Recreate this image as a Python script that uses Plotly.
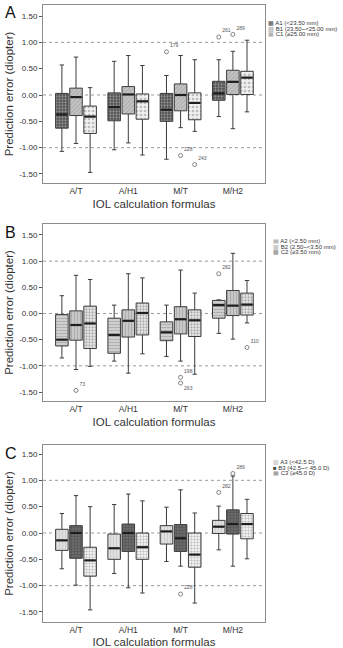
import plotly.graph_objects as go

# ---------------- data ----------------
CATEGORIES = ["A/T", "A/H1", "M/T", "M/H2"]
Y_TICKS = [-1.5, -1.0, -0.5, 0.0, 0.5, 1.0, 1.5]
REF_LINES = [-1.0, 0.0, 1.0]

# Panel A : axial length groups
A1 = dict(upper=[0.57, 0.64, 0.37, 0.67], q3=[0.03, 0.04, 0.03, 0.26], median=[-0.37, -0.23, -0.28, 0.03],
          q1=[-0.63, -0.49, -0.50, -0.10], lower=[-1.07, -1.04, -1.22, -0.41])
B1 = dict(upper=[0.72, 0.75, 0.75, 0.83], q3=[0.13, 0.16, 0.21, 0.47], median=[-0.04, 0.01, 0.00, 0.25],
          q1=[-0.39, -0.36, -0.30, 0.01], lower=[-0.92, -0.91, -0.62, -0.64])
C1 = dict(upper=[0.14, 0.56, 0.67, 1.04], q3=[-0.21, 0.02, 0.04, 0.45], median=[-0.41, -0.12, -0.15, 0.33],
          q1=[-0.73, -0.46, -0.47, 0.01], lower=[-1.47, -1.14, -0.69, -0.32])
OUTLIERS_A = [("M/T", 0, 0.82, "179", "top right"), ("M/T", 1, -1.15, "228", "top right"),
              ("M/T", 2, -1.32, "243", "top right"), ("M/H2", 0, 1.10, "261", "top right"),
              ("M/H2", 1, 1.15, "289", "top right")]
LABELS_A = ["A1 (&lt;23.50 mm)", "B1 (23.50~&lt;25.00 mm)", "C1 (≥25.00 mm)"]

# Panel B : anterior chamber depth groups
A2 = dict(upper=[0.34, 0.16, 0.16, 0.26], q3=[-0.02, -0.09, -0.16, 0.25], median=[-0.50, -0.41, -0.36, 0.16],
          q1=[-0.62, -0.76, -0.52, -0.09], lower=[-0.85, -0.91, -0.82, -0.38])
B2 = dict(upper=[0.73, 0.76, 0.83, 1.15], q3=[0.05, 0.07, 0.13, 0.44], median=[-0.22, -0.14, -0.11, 0.15],
          q1=[-0.51, -0.45, -0.39, -0.04], lower=[-1.07, -1.14, -0.91, -0.49])
C2 = dict(upper=[0.65, 0.68, 0.39, 0.63], q3=[0.14, 0.20, 0.07, 0.39], median=[-0.19, 0.01, -0.13, 0.17],
          q1=[-0.67, -0.41, -0.44, -0.03], lower=[-1.01, -0.77, -1.16, -0.18])
OUTLIERS_B = [("A/T", 1, -1.47, "73", "top right"), ("M/T", 1, -1.22, "198", "top right"),
              ("M/T", 1, -1.33, "263", "bottom right"), ("M/H2", 0, 0.76, "282", "top right"),
              ("M/H2", 2, -0.65, "310", "top right")]
LABELS_B = ["A2 (&lt;2.50 mm)", "B2 (2.50~&lt;3.50 mm)", "C2 (≥3.50 mm)"]

# Panel C : keratometry groups
A3 = dict(upper=[0.37, 0.54, 0.49, 0.51], q3=[0.07, -0.02, 0.14, 0.24], median=[-0.14, -0.29, 0.03, 0.12],
          q1=[-0.33, -0.50, -0.21, -0.01], lower=[-0.68, -0.77, -0.54, -0.32])
B3 = dict(upper=[0.71, 0.74, 0.82, 1.08], q3=[0.14, 0.17, 0.16, 0.44], median=[0.00, 0.00, -0.10, 0.17],
          q1=[-0.48, -0.35, -0.35, -0.02], lower=[-0.99, -1.04, -0.63, -0.63])
C3 = dict(upper=[0.50, 0.61, 0.38, 0.64], q3=[-0.27, 0.00, 0.00, 0.37], median=[-0.52, -0.27, -0.41, 0.17],
          q1=[-0.82, -0.50, -0.65, -0.11], lower=[-1.46, -1.14, -1.33, -0.49])
OUTLIERS_C = [("M/T", 1, -1.16, "228", "top right"), ("M/H2", 0, 0.77, "282", "top right"),
              ("M/H2", 1, 1.13, "289", "top right")]
LABELS_C = ["A3 (&lt;42.5 D)", "B3 (42.5~&lt; 45.0 D)", "C3 (≥45.0 D)"]

# ---------------- styles ----------------
W, H = 343, 648
FONT = "Arial, Liberation Sans, sans-serif"
PLOT_LEFT, PLOT_RIGHT = 43, 265
OFFSETS = [-0.27, 0.0, 0.27]
BOX_W = 0.24

PATTERNS = [
    [dict(bg="#4d4d4d", fg="#d8d8d8", shape=".", size=3, sol=0.45),
     dict(bg="#c4c4c4", fg="#8a8a8a", shape="/", size=3, sol=0.3),
     dict(bg="#f0f0f0", fg="#8a8a8a", shape=".", size=4, sol=0.35)],
    [dict(bg="#cfcfcf", fg="#8c8c8c", shape="-", size=3, sol=0.3),
     dict(bg="#c8c8c8", fg="#8c8c8c", shape="|", size=3, sol=0.3),
     dict(bg="#ececec", fg="#6a6a6a", shape=".", size=3, sol=0.45)],
    [dict(bg="#e0e0e0", fg="#b5b5b5", shape="|", size=3, sol=0.3),
     dict(bg="#6a6a6a", fg="#333333", shape="+", size=3, sol=0.3),
     dict(bg="#f0f0f0", fg="#7a7a7a", shape="+", size=3, sol=0.3)],
]
SWATCH = [[("▩", "#4a4a4a"), ("▨", "#8a8a8a"), ("▦", "#a0a0a0")],
          [("▤", "#8a8a8a"), ("▥", "#8a8a8a"), ("▩", "#888888")],
          [("▥", "#a8a8a8"), ("■", "#4a4a4a"), ("▦", "#8a8a8a")]]

PANELS = [
    dict(letter="A", groups=[A1, B1, C1], outliers=OUTLIERS_A, labels=LABELS_A,
         top=5, bottom=183, yr=[-1.671, 1.709], legend_x=266, legend_y=[22.7, 28.7, 34.5]),
    dict(letter="B", groups=[A2, B2, C2], outliers=OUTLIERS_B, labels=LABELS_B,
         top=224, bottom=401, yr=[-1.672, 1.71], legend_x=271, legend_y=[240.7, 246.5, 252.3]),
    dict(letter="C", groups=[A3, B3, C3], outliers=OUTLIERS_C, labels=LABELS_C,
         top=445, bottom=622, yr=[-1.69, 1.671], legend_x=271, legend_y=[461.7, 467.5, 473.3]),
]

fig = go.Figure()
layout_axes = {}
annotations = []
shapes = []

cat_idx = {c: i for i, c in enumerate(CATEGORIES)}

for p, panel in enumerate(PANELS):
    sfx = "" if p == 0 else str(p + 1)
    xa, ya = "x" + sfx, "y" + sfx
    # bars (patterned IQR fills)
    for g, grp in enumerate(panel["groups"]):
        pos = [i + OFFSETS[g] for i in range(len(CATEGORIES))]
        st = PATTERNS[p][g]
        fig.add_trace(go.Bar(
            x=pos, y=[a - b for a, b in zip(grp["q3"], grp["q1"])], base=grp["q1"],
            width=BOX_W, xaxis=xa, yaxis=ya, showlegend=False, hoverinfo="skip",
            marker=dict(color=st["bg"], line=dict(width=0),
                        pattern=dict(shape=st["shape"], fgcolor=st["fg"], bgcolor=st["bg"],
                                     size=st["size"], solidity=st["sol"]))))
    # box outlines + whiskers
    for g, grp in enumerate(panel["groups"]):
        pos = [i + OFFSETS[g] for i in range(len(CATEGORIES))]
        fig.add_trace(go.Box(
            x=pos, q1=grp["q1"], median=grp["median"], q3=grp["q3"],
            lowerfence=grp["lower"], upperfence=grp["upper"], width=BOX_W,
            whiskerwidth=0.35, fillcolor="rgba(0,0,0,0)", line=dict(color="#3c3c3c", width=1),
            boxpoints=False, xaxis=xa, yaxis=ya, showlegend=False, hoverinfo="skip"))
    # thick medians
    for g, grp in enumerate(panel["groups"]):
        pos = [i + OFFSETS[g] for i in range(len(CATEGORIES))]
        fig.add_trace(go.Scatter(
            x=pos, y=grp["median"], mode="markers", xaxis=xa, yaxis=ya, showlegend=False,
            hoverinfo="skip",
            marker=dict(symbol="line-ew", size=8, line=dict(width=2.2, color="#1e1e1e"))))
    # outliers
    ox = [cat_idx[o[0]] + OFFSETS[o[1]] for o in panel["outliers"]]
    fig.add_trace(go.Scatter(
        x=ox, y=[o[2] for o in panel["outliers"]], text=[o[3] for o in panel["outliers"]],
        textposition=[o[4] for o in panel["outliers"]], mode="markers+text",
        xaxis=xa, yaxis=ya, showlegend=False, hoverinfo="skip",
        textfont=dict(size=5, color="#555555", family=FONT),
        marker=dict(symbol="circle-open", size=4, color="#666666", line=dict(width=0.8))))

    y0 = 1 - panel["bottom"] / H
    y1 = 1 - panel["top"] / H
    layout_axes["xaxis" + sfx] = dict(
        domain=[PLOT_LEFT / W, PLOT_RIGHT / W], anchor=ya, range=[-0.631, 3.614],
        tickmode="array", tickvals=list(range(len(CATEGORIES))), ticktext=CATEGORIES,
        showline=True, mirror=True, linecolor="#8c8c8c", linewidth=1, ticks="",
        showgrid=False, zeroline=False, automargin=False,
        tickfont=dict(size=8.5, color="#333333", family=FONT),
        title=dict(text="IOL calculation formulas", font=dict(size=11.5, color="#333333", family=FONT),
                   standoff=4))
    layout_axes["yaxis" + sfx] = dict(
        domain=[y0, y1], anchor=xa, range=panel["yr"],
        tickmode="array", tickvals=Y_TICKS, ticktext=["%.2f" % v for v in Y_TICKS],
        ticks="outside", ticklen=3, tickcolor="#555555", tickwidth=1,
        showline=True, mirror=True, linecolor="#8c8c8c", linewidth=1,
        showgrid=False, zeroline=False, automargin=False,
        tickfont=dict(size=8, color="#333333", family=FONT),
        title=dict(text="Prediction error (diopter)", font=dict(size=11.5, color="#333333", family=FONT),
                   standoff=3))
    for v in REF_LINES:
        shapes.append(dict(type="line", xref=xa + " domain", yref=ya, x0=0, x1=1, y0=v, y1=v,
                           line=dict(color="#9a9a9a", width=1, dash="dot"), layer="below"))
    annotations.append(dict(text=panel["letter"], xref="paper", yref="paper",
                            x=3 / W, y=1 - (panel["top"] + 8) / H, xanchor="left", yanchor="middle",
                            showarrow=False, font=dict(size=16, color="#111111", family=FONT)))
    for g, lab in enumerate(panel["labels"]):
        ch, col = SWATCH[p][g]
        annotations.append(dict(
            text="<span style='color:%s'>%s</span> %s" % (col, ch, lab),
            xref="paper", yref="paper", x=panel["legend_x"] / W, y=1 - panel["legend_y"][g] / H,
            xanchor="left", yanchor="middle", showarrow=False,
            font=dict(size=6, color="#333333", family=FONT)))

fig.update_layout(
    width=W, height=H, margin=dict(l=0, r=0, t=0, b=0),
    paper_bgcolor="white", plot_bgcolor="white",
    barmode="overlay", boxmode="overlay", showlegend=False,
    annotations=annotations, shapes=shapes,
    font=dict(family=FONT),
    **layout_axes)

fig.write_html("out.html")
